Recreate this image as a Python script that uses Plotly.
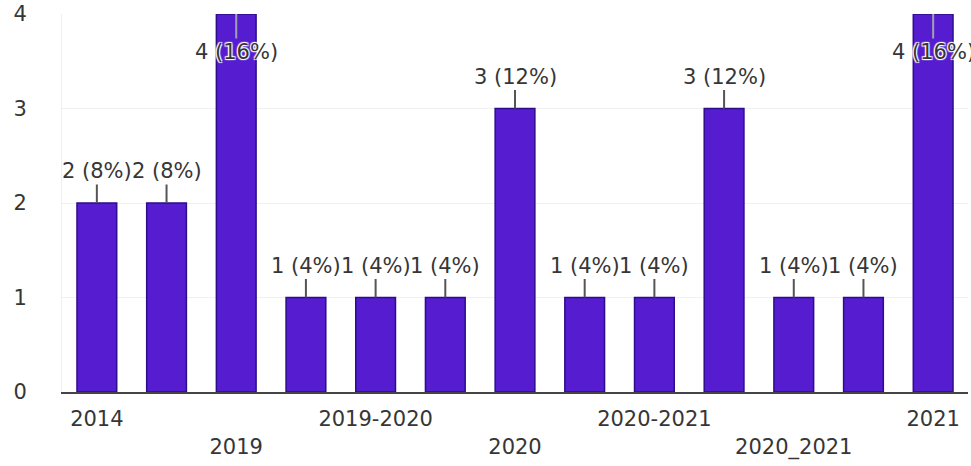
import plotly.graph_objects as go

# Data
values = [2, 2, 4, 1, 1, 1, 3, 1, 1, 3, 1, 1, 4]
percents = [8, 8, 16, 4, 4, 4, 12, 4, 4, 12, 4, 4, 16]
tick_positions = [0, 2, 4, 6, 8, 10, 12]
tick_labels = ["2014", "2019", "2019-2020", "2020", "2020-2021", "2020_2021", "2021"]
tick_rows = [0, 1, 0, 1, 0, 1, 0]

BAR_FILL = "#561ccf"
BAR_EDGE = "#2c0d8c"
TEXT = "#363636"
FONT = "DejaVu Sans"

x_idx = list(range(len(values)))
labels = [f"{v} ({p}%)" for v, p in zip(values, percents)]

fig = go.Figure()
fig.add_trace(go.Bar(
    x=x_idx, y=values, width=0.57,
    marker=dict(color=BAR_FILL, line=dict(color=BAR_EDGE, width=1.5)),
    hoverinfo="skip",
))

ymax = 4
for xi, v, lab in zip(x_idx, values, labels):
    at_top = v >= ymax
    fig.add_annotation(
        x=xi, y=v, xref="x", yref="y",
        text=lab, showarrow=True, arrowhead=0, arrowwidth=2,
        arrowcolor="#a0a0b0" if at_top else "#555555",
        ax=0, ay=38 if at_top else -32, standoff=0,
        font=dict(family=FONT, size=21, color=TEXT,
                  shadow="1px 1px 1px white, -1px -1px 1px white, 1px -1px 1px white, -1px 1px 1px white"),
    )

ticktext = [("<br>" + t) if r == 1 else t for t, r in zip(tick_labels, tick_rows)]

fig.update_layout(
    width=971, height=466,
    margin=dict(l=62, r=3, t=14, b=74),
    paper_bgcolor="white", plot_bgcolor="white",
    showlegend=False,
    font=dict(family=FONT, color=TEXT),
    xaxis=dict(
        range=[-0.5, 12.5], tickmode="array", tickvals=tick_positions, ticktext=ticktext,
        tickangle=0, showgrid=False, zeroline=False,
        showline=True, linecolor="#444444", linewidth=2,
        ticks="", tickfont=dict(family=FONT, size=21, color=TEXT),
        ticklabelstandoff=7,
    ),
    yaxis=dict(
        range=[0, 4], tickvals=[0, 1, 2, 3, 4], showgrid=True, gridcolor="#f0f0f0",
        zeroline=False, showline=True, linecolor="#f0f0f0", linewidth=1,
        ticks="", tickfont=dict(family=FONT, size=21, color=TEXT),
        ticklabelstandoff=30,
    ),
)

fig.write_html(
    "out.html",
    config={"displayModeBar": False},
    post_script="document.body.style.margin='0';document.body.style.overflow='hidden';",
)
